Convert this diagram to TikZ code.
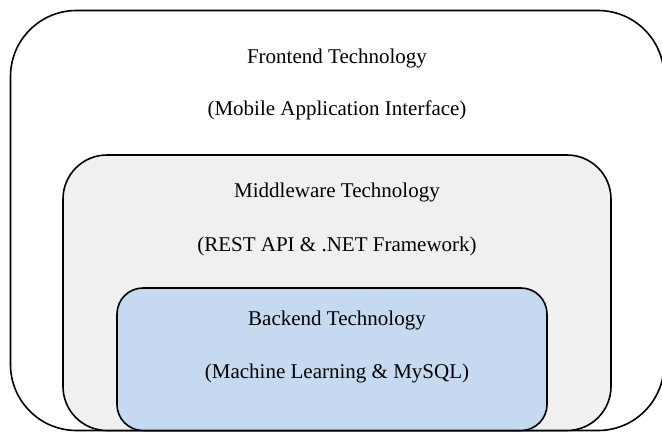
\documentclass[tikz,border=0pt]{standalone}
\usepackage{fontspec}
\setmainfont{Liberation Serif}
\definecolor{midgray}{HTML}{F0F0F0}
\definecolor{backblue}{HTML}{C5D9F0}

\begin{document}
\begin{tikzpicture}[x=1pt,y=-1pt,every node/.style={font=\fontsize{21}{25}\selectfont,anchor=base}]
\useasboundingbox (0,0) rectangle (662,432);
\begin{scope}
\clip (0,0) rectangle (662,432);
\draw[line width=1.6pt,rounded corners=66pt] (10.5,10.5) rectangle (664,430.5);
\draw[line width=1.6pt,rounded corners=44pt,fill=midgray] (63,155) rectangle (611,430.5);
\draw[line width=1.6pt,rounded corners=26pt,fill=backblue] (117,288) rectangle (547,430.5);
\end{scope}
\node (front) at (337,63) {Frontend Technology};
\node (frontsub) at (337,115) {(Mobile Application Interface)};
\node (middle) at (337,197) {Middleware Technology};
\node (middlesub) at (337,251) {(REST API \& .NET Framework)};
\node (back) at (337,325) {Backend Technology};
\node (backsub) at (337,378) {(Machine Learning \& MySQL)};
\end{tikzpicture}
\end{document}
